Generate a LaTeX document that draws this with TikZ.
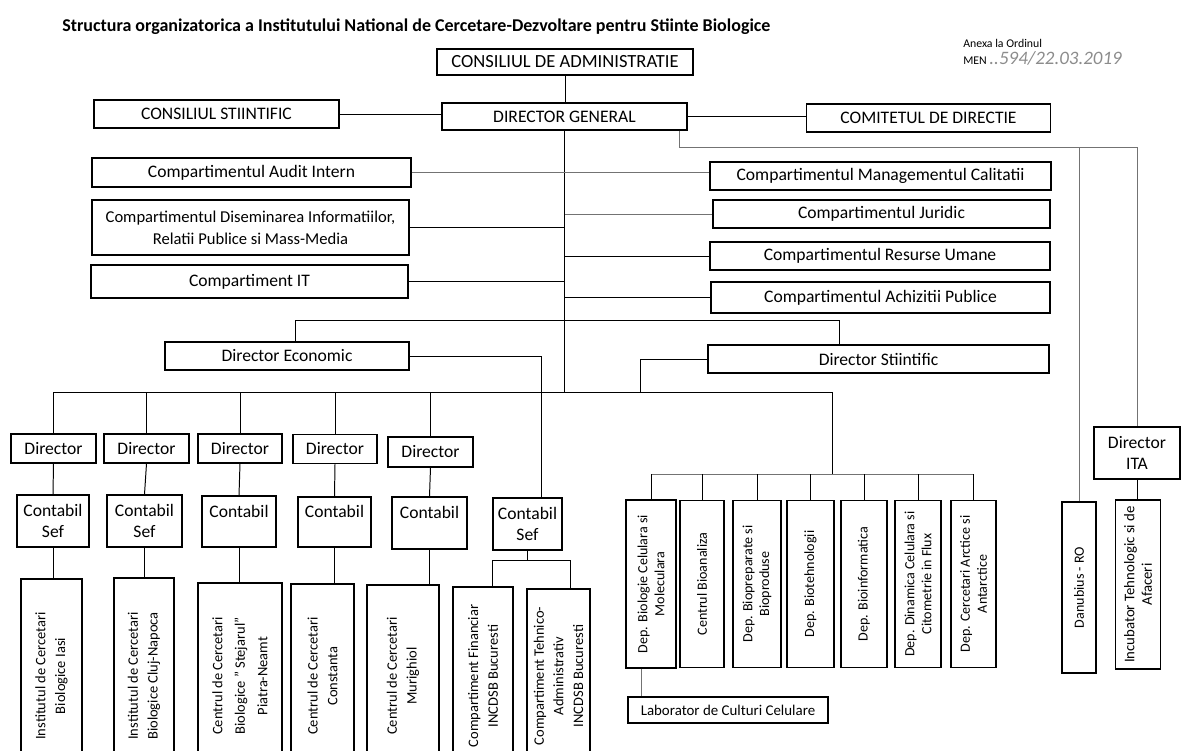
\documentclass[tikz,border=0pt]{standalone}
\usepackage{fontspec}
\setmainfont{Carlito}

\tikzset{
  bx/.style 2 args={draw, line width=0.9pt, minimum width=#1*0.025cm, minimum height=#2*0.025cm,
    inner sep=0pt, align=center, font=\fontsize{12.5}{15}\selectfont},
  vbx/.style 2 args={draw, line width=0.9pt, rotate=90, minimum width=#2*0.025cm, minimum height=#1*0.025cm,
    inner sep=0pt, align=center, font=\fontsize{10.3}{14}\selectfont},
  dep/.style={font=\fontsize{10}{12}\selectfont},
  ln/.style={line width=0.7pt},
  faint/.style={line width=0.6pt, draw=black!55},
  lbl/.style={anchor=west, inner sep=0pt}
}

\begin{document}
\begin{tikzpicture}[x=0.025cm, y=-0.025cm]
\useasboundingbox (0,0) rectangle (1182,750);
\clip (0,0) rectangle (1182,750);

\node[lbl, font=\bfseries\fontsize{12.8}{14}\selectfont] (title) at (62,27)
  {Structura organizatorica a Institutului National de Cercetare-Dezvoltare pentru Stiinte Biologice};
\node[lbl, font=\fontsize{8.4}{10}\selectfont] (anexa) at (963,43) {Anexa la Ordinul};
\node[lbl, font=\fontsize{8.4}{10}\selectfont] (men) at (963,58)
  {MEN \textcolor{black!45}{\fontsize{13.5}{13}\selectfont\itshape ..594/22.03.2019}};

\node[bx={256}{26}, font=\fontsize{13.2}{15}\selectfont] (ca) at (565,62) {CONSILIUL DE ADMINISTRATIE};
\node[bx={245}{27}] (dg) at (564.5,116.5) {DIRECTOR GENERAL};
\node[bx={245}{28}] (cs) at (216.5,114) {CONSILIUL STIINTIFIC};
\node[bx={244}{28}] (cd) at (928.5,118) {COMITETUL DE DIRECTIE};

\node[bx={319}{29}] (audit) at (251.5,172.5) {Compartimentul Audit Intern};
\node[bx={317}{55}, font=\fontsize{11.8}{15.5}\selectfont] (dis) at (250.5,227.5)
  {Compartimentul Diseminarea Informatiilor,\\Relatii Publice si Mass-Media};
\node[bx={317}{33}] (it) at (249.5,281.5) {Compartiment IT};
\node[bx={341}{28}] (mc) at (880.5,176) {Compartimentul Managementul Calitatii};
\node[bx={337}{28}] (jur) at (881.5,214) {Compartimentul Juridic};
\node[bx={340}{28}] (ru) at (880,256) {Compartimentul Resurse Umane};
\node[bx={339}{31}] (ap) at (880.5,297.5) {Compartimentul Achizitii Publice};
\node[bx={244}{28}] (de) at (287,356) {Director Economic};
\node[bx={341}{28}] (ds) at (878.5,359) {Director Stiintific};

\node[bx={85}{29}] (d1) at (53.5,448.5) {Director};
\node[bx={85}{29}] (d2) at (146.5,448.5) {Director};
\node[bx={84}{29}] (d3) at (240,448.5) {Director};
\node[bx={84}{29}] (d4) at (335,449) {Director};
\node[bx={85}{30}] (d5) at (430.5,452) {Director};

\node[bx={72}{52}] (c1) at (53,521) {Contabil\\Sef};
\node[bx={75}{52}] (c2) at (144.5,521) {Contabil\\Sef};
\node[bx={74}{51}] (c3) at (239,521.5) {Contabil\\\phantom{Sef}};
\node[bx={73}{50}] (c4) at (334.5,522) {Contabil\\\phantom{Sef}};
\node[bx={75}{52}] (c5) at (429.5,523) {Contabil\\\phantom{Sef}};
\node[bx={69}{52}] (c6) at (527.5,524) {Contabil\\Sef};

\node[vbx={61}{194}] (b1) at (51.5,676) {Institutul de Cercetari\\Biologice Iasi};
\node[vbx={60}{196}] (b2) at (144,676) {Institutul de Cercetari\\Biologice Cluj-Napoca};
\node[vbx={84}{186}, font=\fontsize{10.3}{16}\selectfont] (b3) at (240,676)
  {Centrul de Cercetari\\Biologice " Stejarul"\\Piatra-Neamt};
\node[vbx={63}{184}] (b4) at (322.5,676) {Centrul de Cercetari\\Constanta};
\node[vbx={72}{182}] (b5) at (403,676) {Centrul de Cercetari\\Murighiol};
\node[vbx={60}{178}] (b6) at (483,676) {Compartiment Financiar\\INCDSB Bucuresti};
\node[vbx={63}{174}] (b7) at (558.5,676) {Compartiment Tehnico-\\Administrativ\\INCDSB Bucuresti};

\node[vbx={50}{168}, dep] (p1) at (651,584) {Dep. Biologie Celulara si\\Moleculara};
\node[vbx={44}{167}, dep] (p2) at (702,584) {Centrul Bioanaliza};
\node[vbx={48}{167}, dep] (p3) at (757,584) {Dep. Biopreparate si\\Bioproduse};
\node[vbx={47}{167}, dep] (p4) at (810.5,584) {Dep. Biotehnologii};
\node[vbx={46}{167}, dep] (p5) at (864,584) {Dep. Bioinformatica};
\node[vbx={46}{167}, dep] (p6) at (918,584) {Dep. Dinamica Celulara si\\Citometrie in Flux};
\node[vbx={45}{167}, dep] (p7) at (973.5,584) {Dep. Cercetari Arctice si\\Antarctice};
\node[bx={200}{26}, font=\fontsize{10.6}{12}\selectfont] (lab) at (728,710) {Laborator de Culturi Celulare};

\node[vbx={34}{171}, dep] (dan) at (1079,587.5) {Danubius - RO};
\node[bx={86}{52}] (ita) at (1137,453) {Director\\ITA};
\node[vbx={45}{169}, font=\fontsize{10.5}{12.5}\selectfont] (inc) at (1138,584.5)
  {Incubator Tehnologic si de\\Afaceri};

\coordinate (rail) at (0,147);
\coordinate (trunk) at (564.5,392);
\coordinate (kDE) at (295,320);
\coordinate (kDS) at (839,320);
\coordinate (kC6) at (541,356);
\coordinate (kDS2) at (640,392);
\coordinate (kP) at (832,392);
\coordinate (kP2) at (832,474);
\coordinate (sL) at (492,560);
\coordinate (sR) at (570,560);

\draw[ln] (ca.south) -- (ca.south |- dg.north);
\draw[ln] (cs.east) -- (cs.east -| dg.west);
\draw[ln] (dg.east) -- (dg.east -| cd.west);
\draw[ln] (dg.south) -- (trunk);
\draw[faint] (audit.east) -- (audit.east -| mc.west);
\draw[faint] (jur.west -| trunk) -- (jur.west);
\draw[ln] (dis.east) -- (dis.east -| trunk);
\draw[ln] (ru.west -| trunk) -- (ru.west);
\draw[ln] (it.east) -- (it.east -| trunk);
\draw[ln] (ap.west -| trunk) -- (ap.west);
\draw[ln] (kDE |- de.north) -- (kDE) -- (kDS) -- (kDS |- ds.north);
\draw[ln] (de.east) -- (kC6) -- (kC6 |- c6.north);
\draw[ln] (ds.west) -| (kDS2);
\draw[ln] (d1.north |- trunk) -- (kP) -- (kP2);

\draw[ln] (d1.north |- trunk) -- (d1.north);
\draw[ln] (d2.north |- trunk) -- (d2.north);
\draw[ln] (d3.north |- trunk) -- (d3.north);
\draw[ln] (d4.north |- trunk) -- (d4.north);
\draw[ln] (d5.north |- trunk) -- (d5.north);
\draw[ln] (d1.south) -- (c1.north);
\draw[ln] (d2.south) -- (c2.north);
\draw[ln] (d3.south) -- (c3.north);
\draw[ln] (d4.south) -- (c4.north);
\draw[ln] (d5.south) -- (c5.north);
\draw[ln] (c1.south) -- (c1.south |- b1.east);
\draw[ln] (c2.south) -- (c2.south |- b2.east);
\draw[ln] (c3.south) -- (c3.south |- b3.east);
\draw[ln] (c4.south) -- (c4.south |- b4.east);
\draw[ln] (c5.south) -- (c5.south |- b5.east);
\draw[ln] (c6.south) -- (c6.south |- sL);
\draw[ln] (sL |- b6.east) -- (sL) -- (sR) -- (sR |- b7.east);

\draw[faint] (p1.east |- kP2) -- (p7.east |- kP2);
\draw[ln] (p1.east |- kP2) -- (p1.east);
\draw[ln] (p2.east |- kP2) -- (p2.east);
\draw[ln] (p3.east |- kP2) -- (p3.east);
\draw[ln] (p4.east |- kP2) -- (p4.east);
\draw[ln] (p5.east |- kP2) -- (p5.east);
\draw[ln] (p6.east |- kP2) -- (p6.east);
\draw[ln] (p7.east |- kP2) -- (p7.east);
\draw[faint] ([xshift=-0.25cm]p1.west) -- ([xshift=-0.25cm]p1.west |- lab.north);

\draw[faint] ([xshift=-0.2cm]dg.south east) |- (ita.north |- rail) -- (ita.north);
\draw[faint] (dan.east |- rail) -- (dan.east);
\draw[ln] (ita.south) -- (ita.south |- inc.east);
\end{tikzpicture}
\end{document}
